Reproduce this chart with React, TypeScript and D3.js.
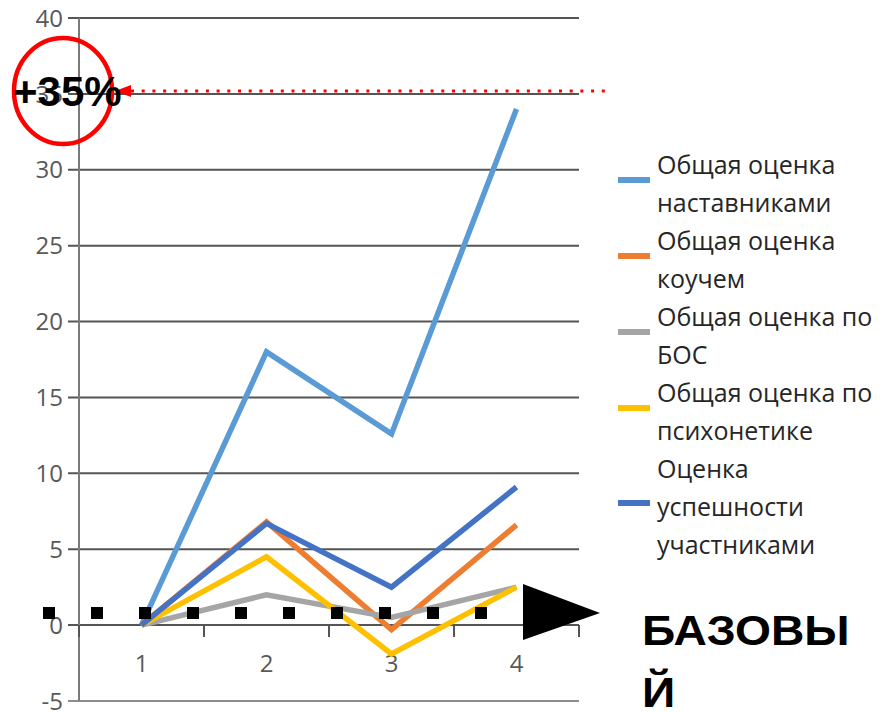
import { useEffect, useRef } from "react";
import * as d3 from "d3";

const categories = ["1", "2", "3", "4"];
const seriesNames = [
  ["Общая оценка", "наставниками"],
  ["Общая оценка", "коучем"],
  ["Общая оценка по", "БОС"],
  ["Общая оценка по", "психонетике"],
  ["Оценка", "успешности", "участниками"],
];
const mentors = [0, 18, 12.6, 34];
const coach = [0, 6.8, -0.3, 6.6];
const bos = [0, 2, 0.5, 2.5];
const psycho = [0, 4.5, -1.9, 2.5];
const participants = [0, 6.7, 2.5, 9.1];
const yTicks = [-5, 0, 5, 10, 15, 20, 25, 30, 35, 40];
const colors = ["#5b9bd5", "#ed7d31", "#a5a5a5", "#ffc000", "#4472c4"];
const baseLevel = 0.8;
const highlightLevel = 35;

const W = 881;
const H = 712;
const plot = { left: 79, right: 579, top: 18, bottom: 701 };

const draw = (ref: SVGSVGElement) => {
  const svg = d3.select(ref);
  svg.selectAll("*").remove();
  const allSeries = [mentors, coach, bos, psycho, participants];

  const x = d3.scaleBand<string>().domain(categories).range([plot.left, plot.right]).padding(0);
  const y = d3.scaleLinear().domain([-5, 40]).range([plot.bottom, plot.top]);
  const cx = (c: string) => (x(c) ?? 0) + x.bandwidth() / 2;

  // grid + y axis
  const grid = svg.append("g");
  grid.selectAll("line.grid")
    .data(yTicks)
    .enter()
    .append("line")
    .attr("x1", plot.left - 11)
    .attr("x2", plot.right)
    .attr("y1", (d) => y(d))
    .attr("y2", (d) => y(d))
    .attr("stroke", (d) => (d === -5 ? "#8c8c8c" : "#555"))
    .attr("stroke-width", 2);
  grid.append("line")
    .attr("x1", plot.left).attr("x2", plot.left)
    .attr("y1", plot.top).attr("y2", plot.bottom)
    .attr("stroke", "#7a7a7a").attr("stroke-width", 2);
  grid.selectAll("text.yl")
    .data(yTicks)
    .enter()
    .append("text")
    .attr("x", plot.left - 16)
    .attr("y", (d) => y(d))
    .attr("dy", "0.36em")
    .attr("text-anchor", "end")
    .attr("font-family", "Open Sans, sans-serif")
    .attr("font-size", 24)
    .attr("fill", "#595959")
    .text((d) => d);

  // x axis at zero
  const bounds = [...categories.map((c) => x(c) ?? 0), plot.right];
  grid.selectAll("line.xt")
    .data(bounds)
    .enter()
    .append("line")
    .attr("x1", (d) => d).attr("x2", (d) => d)
    .attr("y1", y(0)).attr("y2", y(0) + 12)
    .attr("stroke", "#555").attr("stroke-width", 2);
  grid.selectAll("text.xl")
    .data(categories)
    .enter()
    .append("text")
    .attr("x", (d) => cx(d))
    .attr("y", y(0) + 47)
    .attr("text-anchor", "middle")
    .attr("font-family", "Open Sans, sans-serif")
    .attr("font-size", 24)
    .attr("fill", "#595959")
    .text((d) => d);

  // lines
  const line = d3.line<number>()
    .x((_, i) => cx(categories[i]))
    .y((d) => y(d));
  allSeries.forEach((s, i) => {
    svg.append("path")
      .attr("d", line(s))
      .attr("fill", "none")
      .attr("stroke", colors[i])
      .attr("stroke-width", 5.5);
  });

  // legend
  const lineH = 38;
  let ly = 165;
  const legend = svg.append("g");
  seriesNames.forEach((lines, i) => {
    const mid = ly + ((lines.length - 1) * lineH) / 2;
    legend.append("line")
      .attr("x1", 618).attr("x2", 650)
      .attr("y1", mid - 4).attr("y2", mid - 4)
      .attr("stroke", colors[i]).attr("stroke-width", 6);
    lines.forEach((t, j) => {
      legend.append("text")
        .attr("x", 657)
        .attr("y", ly + j * lineH)
        .attr("dy", "0.36em")
        .attr("font-family", "Open Sans, sans-serif")
        .attr("font-size", 25)
        .attr("fill", "#262626")
        .text(t);
    });
    ly += lines.length * lineH;
  });

  // base line annotation
  const by = y(baseLevel);
  svg.append("line")
    .attr("x1", 43).attr("x2", 490)
    .attr("y1", by).attr("y2", by)
    .attr("stroke", "#000").attr("stroke-width", 12)
    .attr("stroke-dasharray", "12 36");
  svg.append("path")
    .attr("d", `M523,${by - 29} L600,${by} L523,${by + 27} Z`)
    .attr("fill", "#000");
  const base = svg.append("text")
    .attr("transform", "translate(642,0) scale(1.1,1)")
    .attr("font-family", "Liberation Sans, Arial, sans-serif")
    .attr("font-weight", "bold")
    .attr("font-size", 42)
    .attr("fill", "#000");
  base.append("tspan").attr("x", 0).attr("y", 645).text("БАЗОВЫ");
  base.append("tspan").attr("x", 0).attr("y", 707).text("Й");

  // +35% annotation
  const hy = y(highlightLevel) - 3;
  svg.append("line")
    .attr("x1", 131).attr("x2", 606)
    .attr("y1", hy).attr("y2", hy)
    .attr("stroke", "#ff0000").attr("stroke-width", 3)
    .attr("stroke-dasharray", "3 7.7");
  svg.append("path")
    .attr("d", `M115,${hy} L131,${hy - 6} L131,${hy + 6} Z`)
    .attr("fill", "#ff0000");
  svg.append("ellipse")
    .attr("cx", 63).attr("cy", 91)
    .attr("rx", 49).attr("ry", 53)
    .attr("fill", "none")
    .attr("stroke", "#ff0000")
    .attr("stroke-width", 4.5);
  svg.append("text")
    .attr("x", 13)
    .attr("y", 106)
    .attr("font-family", "Liberation Sans, Arial, sans-serif")
    .attr("font-weight", "bold")
    .attr("font-size", 42)
    .attr("fill", "#000")
    .text("+35%");
};

export default function App() {
  const ref = useRef<SVGSVGElement>(null);
  useEffect(() => {
    if (ref.current) draw(ref.current);
  }, []);
  return (
    <div style={{ position: "absolute", left: 0, top: 0 }}>
      <svg ref={ref} width={W} height={H} style={{ display: "block", background: "#fff" }} />
    </div>
  );
}
